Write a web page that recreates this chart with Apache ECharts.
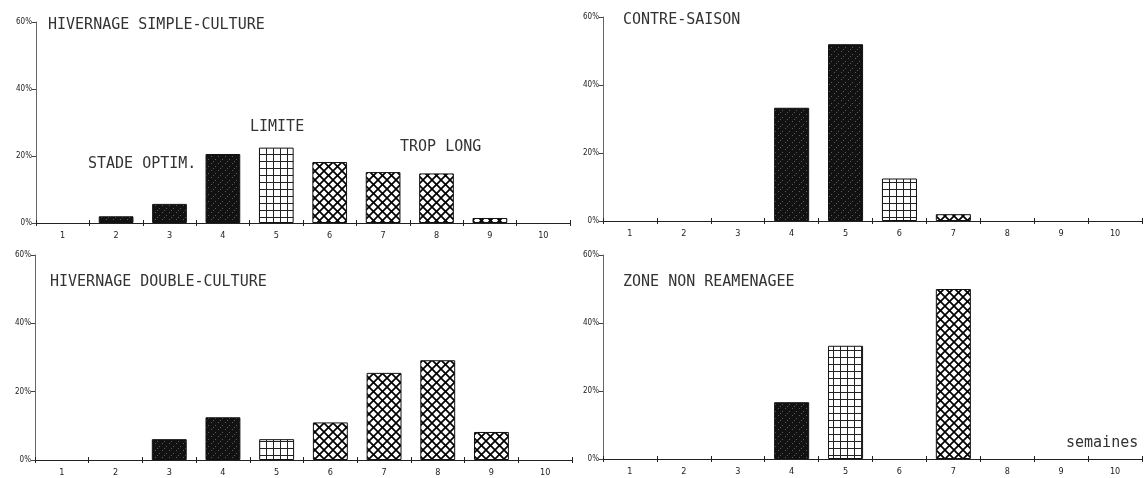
<!DOCTYPE html>
<html><head><meta charset="utf-8">
<script src="https://cdn.jsdelivr.net/npm/echarts@6/dist/echarts.min.js"></script>
<style>html,body{margin:0;padding:0;background:#fff}#c{width:1144px;height:478px}</style>
</head><body><div id="c"></div>
<script>
// ---- data ----
const weeks = ['1','2','3','4','5','6','7','8','9','10'];
const yTicks = [0, 20, 40, 60];
const yLabels = ['0%', '20%', '40%', '60%'];

// stage of each week: O = stade optimum, L = limite, T = trop long
const simpleCulture = [0, 2, 5.7, 20.6, 22.5, 18.2, 15.2, 14.8, 1.5, 0];
const simpleStages  = ['O','O','O','O','L','T','T','T','T','T'];

const contreSaison  = [0, 0, 0, 33.3, 52, 12.5, 2, 0, 0, 0];
const contreStages  = ['O','O','O','O','O','L','T','T','T','T'];

const doubleCulture = [0, 0, 6.1, 12.5, 6.1, 11, 25.5, 29.2, 8.2, 0];
const doubleStages  = ['O','O','O','O','L','T','T','T','T','T'];

const zoneNonReam   = [0, 0, 0, 16.7, 33.3, 0, 50, 0, 0, 0];
const zoneStages    = ['O','O','O','O','L','T','T','T','T','T'];

const panelTitles = ['HIVERNAGE SIMPLE-CULTURE', 'CONTRE-SAISON', 'HIVERNAGE DOUBLE-CULTURE', 'ZONE NON REAMENAGEE'];
const stageNotes = ['STADE OPTIM.', 'LIMITE', 'TROP LONG'];
const xName = 'semaines';

// ---- patterns ----
function mkDark(){
  const c=document.createElement('canvas'); c.width=c.height=7;
  const g=c.getContext('2d'); g.fillStyle='#121212'; g.fillRect(0,0,7,7);
  g.fillStyle='#5a5a5a'; g.fillRect(1,2,1,1); g.fillRect(5,5,1,1); g.fillRect(3,0,1,1);
  return c;
}
function mkGrid(){
  const s=7, c=document.createElement('canvas'); c.width=c.height=s;
  const g=c.getContext('2d'); g.fillStyle='#fff'; g.fillRect(0,0,s,s);
  g.fillStyle='#222'; g.fillRect(0,0,1,s); g.fillRect(0,0,s,1);
  return c;
}
function mkCross(){
  const s=9, c=document.createElement('canvas'); c.width=c.height=s;
  const g=c.getContext('2d'); g.fillStyle='#fff'; g.fillRect(0,0,s,s);
  g.strokeStyle='#000'; g.lineWidth=1.7;
  for (const k of [-s,0,s]){
    g.beginPath(); g.moveTo(k,0); g.lineTo(k+s,s); g.stroke();
    g.beginPath(); g.moveTo(k+s,0); g.lineTo(k,s); g.stroke();
  }
  return c;
}
const pats = {
  O: {image: mkDark(), repeat:'repeat'},
  L: {image: mkGrid(), repeat:'repeat'},
  T: {image: mkCross(), repeat:'repeat'}
};

const panels = [
  {vals: simpleCulture, st: simpleStages, grid:{left:36, top:22, width:534, height:201}},
  {vals: contreSaison,  st: contreStages, grid:{left:603, top:17, width:539, height:204}},
  {vals: doubleCulture, st: doubleStages, grid:{left:35, top:255, width:537, height:205}},
  {vals: zoneNonReam,   st: zoneStages,   grid:{left:603, top:255, width:539, height:204}}
];

const grids=[], xAxes=[], yAxes=[], series=[];
panels.forEach((p,i)=>{
  grids.push(Object.assign({containLabel:false}, p.grid));
  xAxes.push({
    gridIndex:i, type:'category', data:weeks, position:'bottom',
    axisLine:{show:true, lineStyle:{color:'#222', width:1}},
    axisTick:{show:true, length:3, lineStyle:{color:'#222'}},
    axisLabel:{show:true, fontSize:9, color:'#222', margin:8, fontFamily:'DejaVu Sans Condensed, DejaVu Sans'},
    splitLine:{show:false}
  });
  xAxes.push({
    gridIndex:i, type:'category', data:weeks, position:'bottom',
    axisLine:{show:false},
    axisTick:{show:true, inside:true, length:3, lineStyle:{color:'#222'}},
    axisLabel:{show:false}, splitLine:{show:false}
  });
  yAxes.push({
    gridIndex:i, type:'value', min:yTicks[0], max:yTicks[yTicks.length-1], interval:yTicks[1]-yTicks[0],
    axisLine:{show:true, lineStyle:{color:'#666', width:1}},
    axisTick:{show:true, length:4, lineStyle:{color:'#444'}},
    axisLabel:{fontSize:8, color:'#222', margin:4, fontFamily:'DejaVu Sans Condensed, DejaVu Sans',
      formatter:(v)=>yLabels[yTicks.indexOf(v)]},
    splitLine:{show:false}
  });
  series.push({
    type:'bar', xAxisIndex:i*2, yAxisIndex:i, barWidth:'65%', silent:true,
    data: p.vals.map((v,j)=> v>0 ? {value:v, itemStyle:{color:pats[p.st[j]], borderColor:'#111', borderWidth:1}} : '-')
  });
});

const font = '15px "DejaVu Sans Mono"';
function txt(t,x,y){ return {type:'text', x:x, y:y, style:{text:t, font:font, fill:'#333', verticalAlign:'middle'}}; }

const chart = echarts.init(document.getElementById('c'), null, {renderer:'canvas'});
chart.setOption({
  animation:false,
  backgroundColor:'#fff',
  grid:grids, xAxis:xAxes, yAxis:yAxes, series:series,
  graphic:[
    txt(panelTitles[0], 48, 25),
    txt(stageNotes[0], 88, 164),
    txt(stageNotes[1], 250, 127),
    txt(stageNotes[2], 400, 147),
    txt(panelTitles[1], 623, 20),
    txt(panelTitles[2], 50, 282),
    txt(panelTitles[3], 623, 282),
    txt(xName, 1066, 443)
  ]
});
</script></body></html>
